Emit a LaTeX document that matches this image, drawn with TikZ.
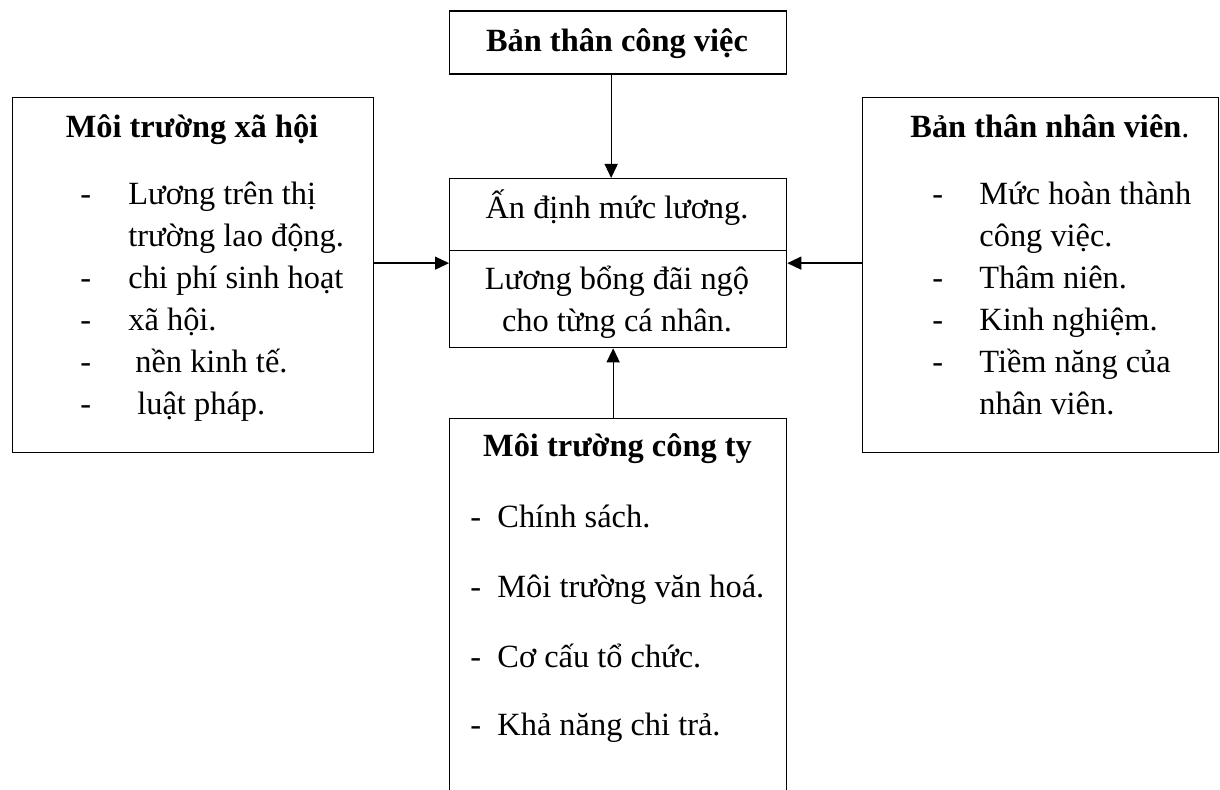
\documentclass[tikz,border=0pt]{standalone}
\usepackage{fontspec}
\setmainfont{Liberation Serif}
\usetikzlibrary{arrows.meta}

\tikzset{
  khung/.style={draw, line width=0.65pt, inner sep=0pt, anchor=north west},
  chu/.style={inner sep=0pt, anchor=base west, font=\fontsize{16.2}{19}\selectfont},
  tieude/.style={inner sep=0pt, anchor=base, font=\fontsize{16.2}{19}\selectfont\bfseries},
  giua/.style={inner sep=0pt, anchor=base, font=\fontsize{16.2}{19}\selectfont},
  muiten/.style={-{Triangle[length=7pt,width=6.5pt]}, line width=0.65pt}
}

\begin{document}
\begin{tikzpicture}[x=0.5pt, y=-0.5pt]
  \clip (0,0) rectangle (1220,790);
  % khung
  \node[khung, minimum width=168.5pt, minimum height=31.5pt] (congviec) at (449,10.5) {};
  \node[khung, minimum width=168.5pt, minimum height=84.5pt] (dinhmuc) at (449,178) {};
  \node[khung, minimum width=180.5pt, minimum height=177.5pt] (xahoi) at (12,97) {};
  \node[khung, minimum width=178pt, minimum height=177.5pt] (nhanvien) at (862,97) {};
  \node[khung, minimum width=168.5pt, minimum height=210pt] (congty) at (449,418) {};
  \draw[line width=0.65pt] (dinhmuc.west |- 0,250.5) -- (dinhmuc.east |- 0,250.5);
  % mui ten
  \draw[muiten] ([xshift=-3.5pt]congviec.south) -- ([xshift=-3.5pt]dinhmuc.north);
  \draw[muiten] ([xshift=-2.5pt]congty.north) -- ([xshift=-2.5pt]dinhmuc.south);
  \draw[muiten] (xahoi.east |- dinhmuc.west) -- (dinhmuc.west);
  \draw[muiten] (nhanvien.west |- dinhmuc.east) -- (dinhmuc.east);
  % chu
  \node[tieude] (t1) at (617,52) {Bản thân công việc};
  \node[giua] (g1) at (617,219) {Ấn định mức lương.};
  \node[giua] (g2) at (617,290) {Lương bổng đãi ngộ};
  \node[giua] (g3) at (617,332) {cho từng cá nhân.};
  \node[tieude] (t2) at (192,138) {Môi trường xã hội};
  \node[chu] (x1) at (80,205) {-};
  \node[chu] (x1b) at (128,205) {Lương trên thị};
  \node[chu] (x1c) at (128,247) {trường lao động.};
  \node[chu] (x2) at (80,289) {-};
  \node[chu] (x2b) at (128,289) {chi phí sinh hoạt};
  \node[chu] (x3) at (80,331) {-};
  \node[chu] (x3b) at (128,331) {xã hội.};
  \node[chu] (x4) at (80,373) {-};
  \node[chu] (x4b) at (135,373) {nền kinh tế.};
  \node[chu] (x5) at (80,415) {-};
  \node[chu] (x5b) at (137,415) {luật pháp.};
  \node[chu] (t3) at (910,138) {\textbf{Bản thân nhân viên}.};
  \node[chu] (n1) at (932,205) {-};
  \node[chu] (n1b) at (979,205) {Mức hoàn thành};
  \node[chu] (n1c) at (979,247) {công việc.};
  \node[chu] (n2) at (932,289) {-};
  \node[chu] (n2b) at (979,289) {Thâm niên.};
  \node[chu] (n3) at (932,331) {-};
  \node[chu] (n3b) at (979,331) {Kinh nghiệm.};
  \node[chu] (n4) at (932,373) {-};
  \node[chu] (n4b) at (979,373) {Tiềm năng của};
  \node[chu] (n4c) at (979,415) {nhân viên.};
  \node[tieude] (t4) at (617.5,457) {Môi trường công ty};
  \node[chu] (c1) at (470,528) {-};
  \node[chu] (c1b) at (497,528) {Chính sách.};
  \node[chu] (c2) at (470,597) {-};
  \node[chu] (c2b) at (497,597) {Môi trường văn hoá.};
  \node[chu] (c3) at (470,667) {-};
  \node[chu] (c3b) at (497,667) {Cơ cấu tổ chức.};
  \node[chu] (c4) at (470,735) {-};
  \node[chu] (c4b) at (497,735) {Khả năng chi trả.};
\end{tikzpicture}
\end{document}
